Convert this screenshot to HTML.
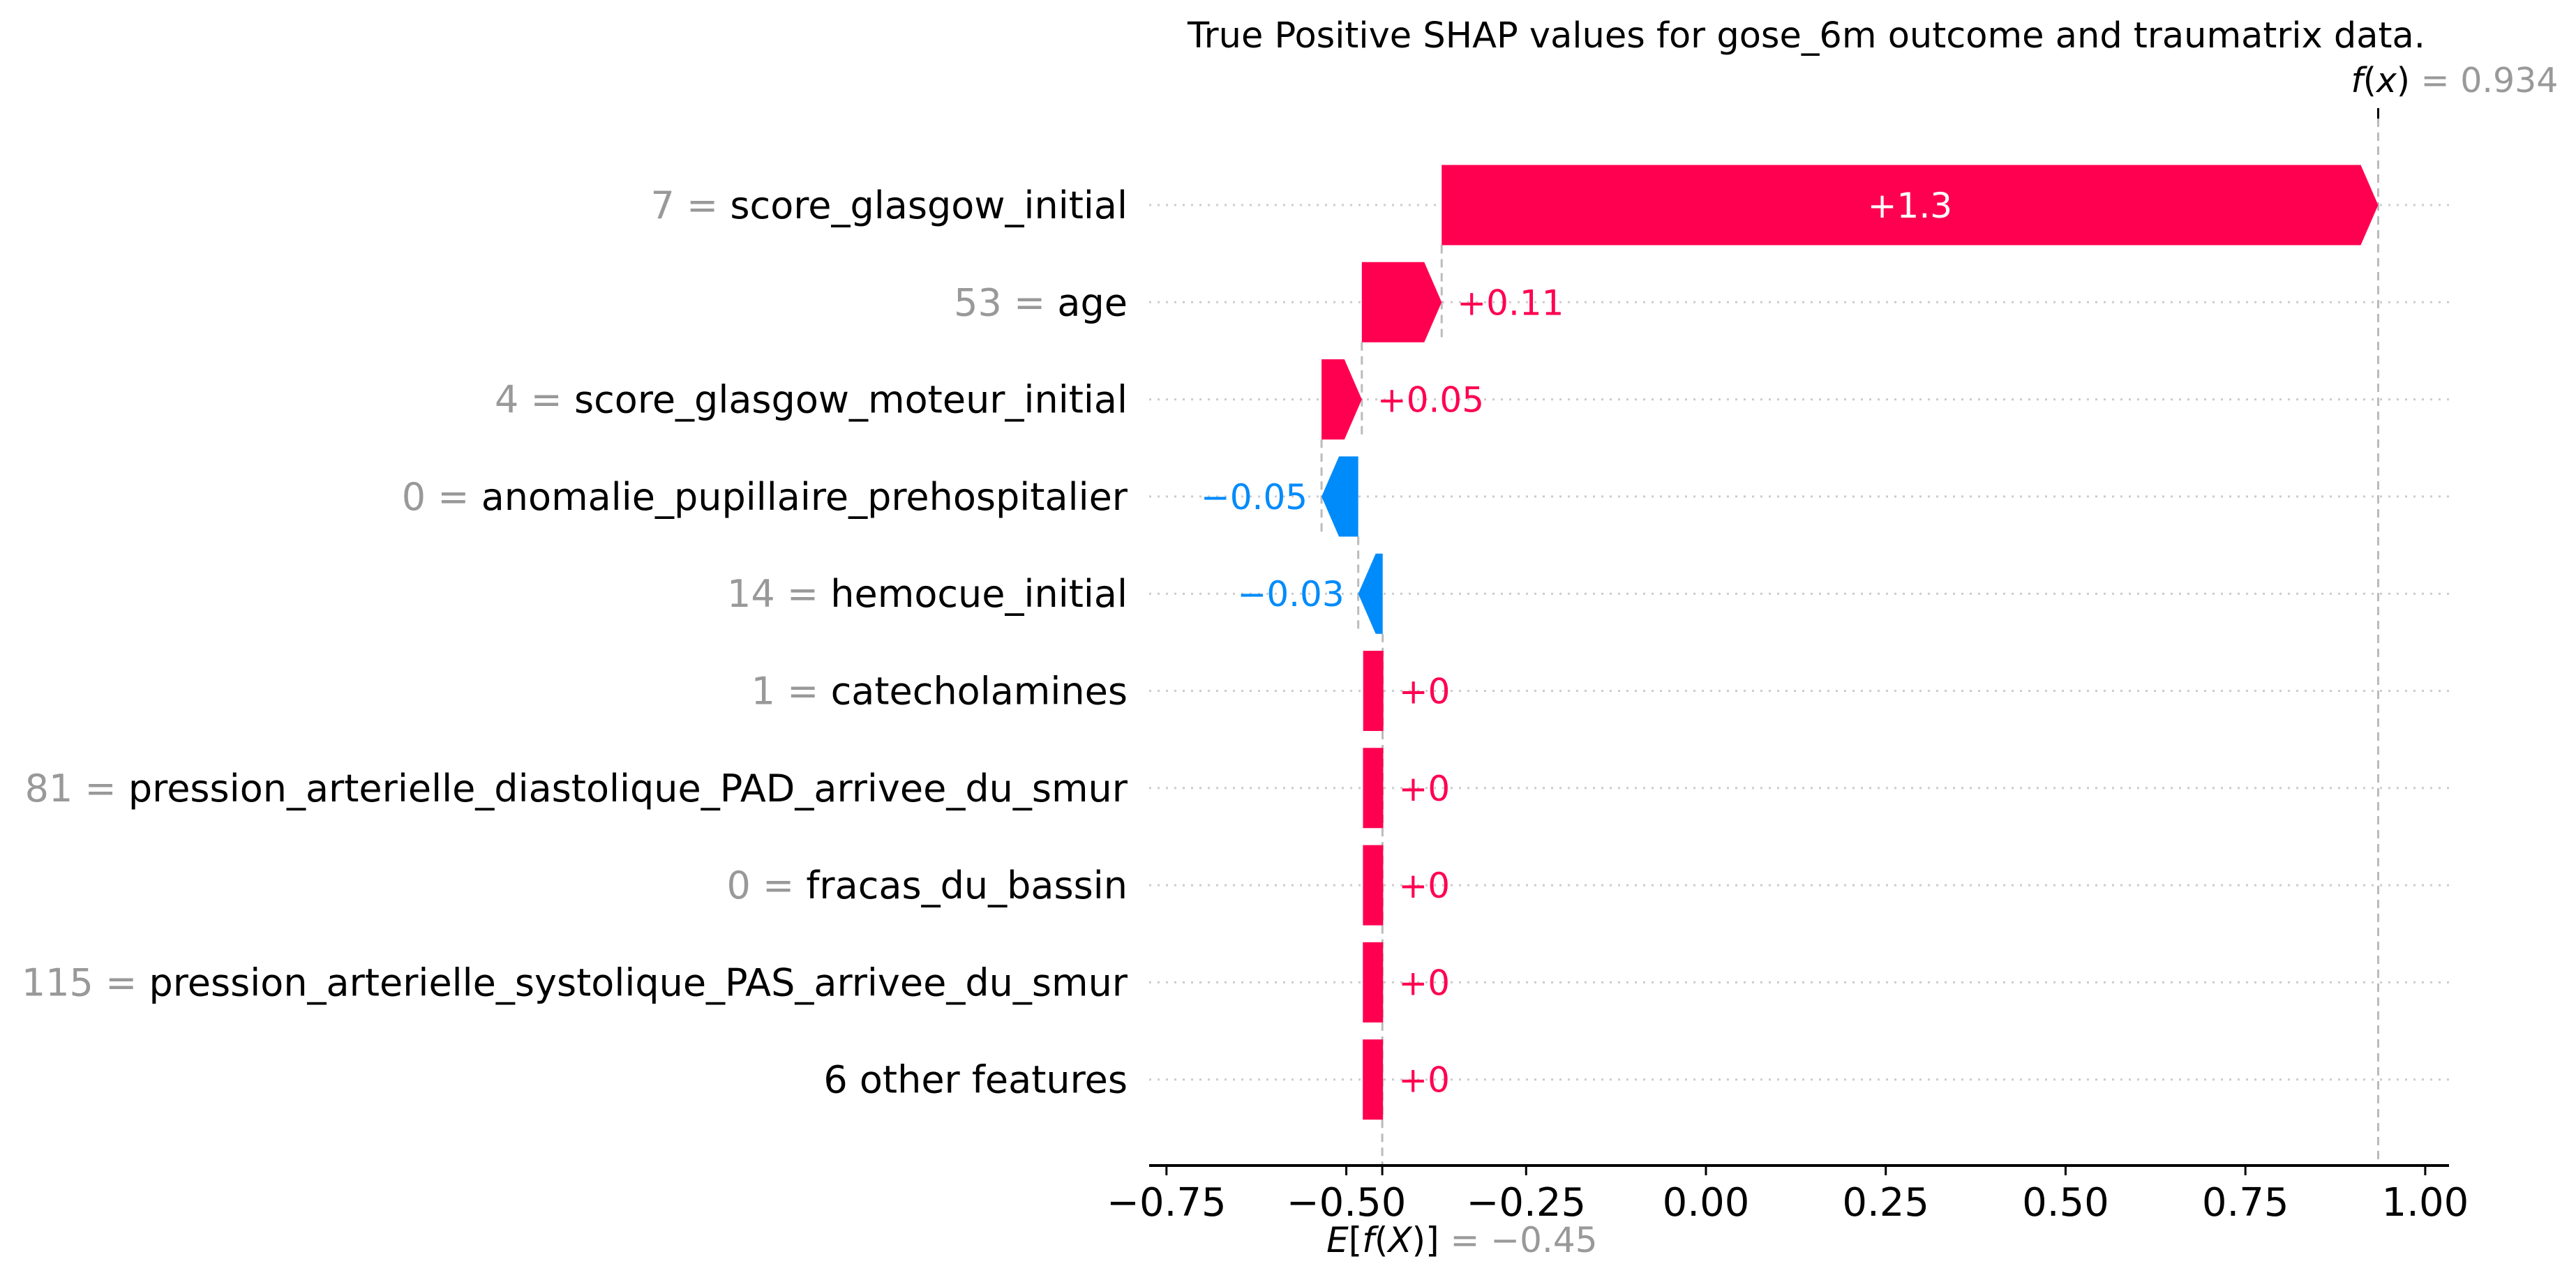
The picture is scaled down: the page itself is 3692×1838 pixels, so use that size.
<!DOCTYPE html>
<html><head><meta charset="utf-8"><style>
html,body{margin:0;padding:0;background:#fff;}
svg{display:block;font-family:"DejaVu Sans","Liberation Sans",sans-serif;}
</style></head><body>
<svg id="chart" width="3692" height="1838" viewBox="0 0 3692 1838" xmlns="http://www.w3.org/2000/svg">
<text x="2589" y="68" font-size="51" text-anchor="middle" fill="#000">True Positive SHAP values for gose_6m outcome and traumatrix data.</text>
<g id="grid"></g><g id="lines"></g><g id="bars"></g><g id="labels"></g><g id="axis"></g>
</svg>
<script>
const featureValues = ["7","53","4","0","14","1","81","0","115",""];
const featureNames = ["score_glasgow_initial","age","score_glasgow_moteur_initial","anomalie_pupillaire_prehospitalier","hemocue_initial","catecholamines","pression_arterielle_diastolique_PAD_arrivee_du_smur","fracas_du_bassin","pression_arterielle_systolique_PAS_arrivee_du_smur","6 other features"];
const shapValues = [1.302,0.111,0.056,-0.051,-0.034,0.0002,0.0001,0.0001,0.0001,0.0001];
const valueLabels = ["+1.3","+0.11","+0.05","\u22120.05","\u22120.03","+0","+0","+0","+0","+0"];
const baseValue = -0.45;
const fxLabel = "0.934";
const exLabel = "\u22120.45";
const tickValues = [-0.75,-0.5,-0.25,0,0.25,0.5,0.75,1.0];
const tickLabels = ["\u22120.75","\u22120.50","\u22120.25","0.00","0.25","0.50","0.75","1.00"];

const NS="http://www.w3.org/2000/svg";
const X0=2445, UNIT=1030.9;
const xs=v=>X0+v*UNIT;
const ROW0=294, ROWH=139.3, HALF=57.5, HEAD=25;
const ys=i=>ROW0+i*ROWH;
const PINK="#ff0051", BLUE="#008bfb";
function mk(tag,attrs,parent){const e=document.createElementNS(NS,tag);for(const k in attrs)e.setAttribute(k,attrs[k]);document.getElementById(parent).appendChild(e);return e;}

const n=shapValues.length;
const starts=new Array(n), ends=new Array(n);
let acc=baseValue;
for(let i=n-1;i>=0;i--){starts[i]=acc;acc+=shapValues[i];ends[i]=acc;}
const fx=ends[0];
const AX_Y=1671, AX_L=1647, AX_R=3510;

for(let i=0;i<n;i++){
  const y=ys(i);
  const g=mk("line",{x1:AX_L,x2:AX_R,y1:y,y2:y,stroke:"#cccccc","stroke-width":3,"stroke-dasharray":"3 9"},"grid");
  
  
  if(i>0){
    const cl=mk("line",{x1:xs(ends[i]),x2:xs(ends[i]),y1:ys(i-1)+HALF,y2:y+HALF,stroke:"#bbbbbb","stroke-width":3,"stroke-dasharray":"12 8"},"lines");
    
    
  }
  const v=shapValues[i];
  const a=xs(starts[i]), b=xs(ends[i]);
  const w=Math.abs(b-a);
  let pts;
  const col=v>=0?PINK:BLUE;
  let rEdge=b;
  if(w<HEAD+3){
    const r=Math.max(b,a)+1, l=r-29;
    rEdge=r;
    pts=`${l},${y-HALF} ${r},${y-HALF} ${r},${y+HALF} ${l},${y+HALF}`;
  } else if(v>=0){
    pts=`${a},${y-HALF} ${b-HEAD},${y-HALF} ${b},${y} ${b-HEAD},${y+HALF} ${a},${y+HALF}`;
  } else {
    pts=`${a},${y-HALF} ${b+HEAD},${y-HALF} ${b},${y} ${b+HEAD},${y+HALF} ${a},${y+HALF}`;
  }
  const bar=mk("polygon",{points:pts,fill:col},"bars");
  
  
  let t;
  if(v>=0 && w>300){
    t=mk("text",{x:(a+b)/2,y:y+18,"font-size":50,"text-anchor":"middle",fill:"#fff"},"labels");
  } else if(v>=0){
    t=mk("text",{x:rEdge+22,y:y+18,"font-size":50,"text-anchor":"start",fill:PINK},"labels");
  } else {
    t=mk("text",{x:b-20,y:y+18,"font-size":50,"text-anchor":"end",fill:BLUE},"labels");
  }
  t.textContent=valueLabels[i];
  
  
  const yl=mk("text",{x:1616,y:y+19,"font-size":54,"text-anchor":"end",fill:"#000"},"labels");
  
  
  if(featureValues[i]!==""){
    const s1=document.createElementNS(NS,"tspan");s1.setAttribute("fill","#999999");s1.textContent=featureValues[i]+" = ";yl.appendChild(s1);
  }
  const s2=document.createElementNS(NS,"tspan");s2.textContent=featureNames[i];yl.appendChild(s2);
}
const fl=mk("line",{x1:xs(fx),x2:xs(fx),y1:170,y2:AX_Y,stroke:"#bbbbbb","stroke-width":3,"stroke-dasharray":"12 8"},"lines");


const el=mk("line",{x1:xs(baseValue),x2:xs(baseValue),y1:ys(n-1)+HALF,y2:AX_Y,stroke:"#bbbbbb","stroke-width":3,"stroke-dasharray":"12 8"},"lines");


const ft=mk("line",{x1:xs(fx),x2:xs(fx),y1:155,y2:170,stroke:"#000","stroke-width":3},"axis");


const fxt=mk("text",{x:xs(fx)-39,y:132,"font-size":49,fill:"#000"},"axis");


fxt.innerHTML='<tspan font-style="italic">f</tspan>(<tspan font-style="italic">x</tspan>)<tspan fill="#999999"> = '+fxLabel+'</tspan>';
const ax=mk("line",{x1:AX_L,x2:AX_R,y1:AX_Y,y2:AX_Y,stroke:"#000","stroke-width":4},"axis");


tickValues.forEach((v,k)=>{
  const tk=mk("line",{x1:xs(v),x2:xs(v),y1:AX_Y,y2:AX_Y+14,stroke:"#000","stroke-width":3},"axis");
  
  
  const tl=mk("text",{x:xs(v),y:1743,"font-size":56,"text-anchor":"middle",fill:"#000"},"axis");
  tl.textContent=tickLabels[k];
  
  
});
const et=mk("line",{x1:xs(baseValue),x2:xs(baseValue),y1:AX_Y,y2:AX_Y+14,stroke:"#000","stroke-width":3},"axis");


const ext=mk("text",{x:xs(baseValue)-80,y:1795,"font-size":50,fill:"#000"},"axis");


ext.innerHTML='<tspan font-style="italic">E</tspan>[<tspan font-style="italic">f</tspan>(<tspan font-style="italic">X</tspan>)]<tspan fill="#999999"> = '+exLabel+'</tspan>';
</script>
</body></html>
